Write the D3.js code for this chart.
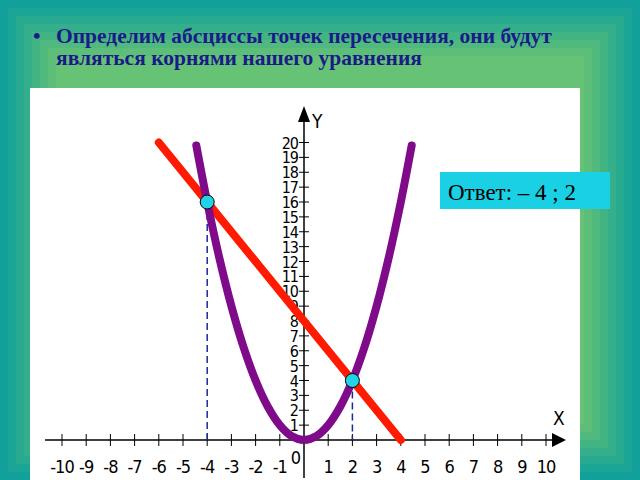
<!DOCTYPE html>
<html><head><meta charset="utf-8">
<script src="https://cdn.jsdelivr.net/npm/d3@7"></script>
<style>body{margin:0;overflow:hidden}</style>
</head><body>
<script>
var xTicks = d3.range(-10, 11);
var yTicks = d3.range(1, 21);
var parabolaX = [-4.45,-4,-3.5,-3,-2.5,-2,-1.5,-1,-0.5,0,0.5,1,1.5,2,2.5,3,3.5,4,4.45];
var lineX = [-6, 4];
var roots = [-4, 2];
var answer = "Ответ: – 4 ; 2";
var titleLines = ["Определим абсциссы точек пересечения, они будут", "являться корнями нашего уравнения"];

var svg = d3.select("body").append("svg").attr("width", 640).attr("height", 480);

// frame
var frames = ["#11a09a","#1aa596","#27aa90","#35af8a","#42b484","#4fb97e","#5cbe78","#66c274"];
frames.forEach(function(c, i){
  svg.append("rect").attr("x", i*8).attr("y", i*8).attr("width", 640-i*16).attr("height", 480-i*16).attr("fill", c);
});
svg.append("rect").attr("x", 30).attr("y", 88).attr("width", 550).attr("height", 392).attr("fill", "#fff");

var t = svg.append("text").attr("font-family", "Liberation Serif").attr("font-weight", "bold")
  .attr("font-size", 21.5).attr("fill", "#1a1a8a");
t.append("tspan").attr("x", 33).attr("y", 43).text("•");
titleLines.forEach(function(s, i){
  t.append("tspan").attr("x", 56).attr("y", 43 + i*22).text(s);
});

var x = d3.scaleLinear().domain([0, 10]).range([304, 546]);
var y = d3.scaleLinear().domain([0, 16]).range([440, 202]);

var g = svg.append("g");
// axes
g.append("line").attr("x1", 45).attr("x2", 552).attr("y1", y(0)).attr("y2", y(0)).attr("stroke", "#000").attr("stroke-width", 1.5);
g.append("path").attr("d", "M566," + y(0) + "l-14,-7v14z");
g.append("line").attr("x1", x(0)).attr("x2", x(0)).attr("y1", 122).attr("y2", 478).attr("stroke", "#000").attr("stroke-width", 1.5);
g.append("path").attr("d", "M" + x(0) + ",106l-6,16h12z");
g.selectAll(".xt").data(xTicks.filter(function(d){return d;})).enter().append("line")
  .attr("x1", x).attr("x2", x).attr("y1", y(0)-6).attr("y2", y(0)+6).attr("stroke", "#000");
g.selectAll(".yt").data(yTicks).enter().append("line")
  .attr("x1", x(0)-5).attr("x2", x(0)+5).attr("y1", y).attr("y2", y).attr("stroke", "#000");
var lf = "DejaVu Sans Condensed";
g.selectAll(".xl").data(xTicks.filter(function(d){return d;})).enter().append("text")
  .attr("x", x).attr("y", y(0)+33).attr("text-anchor", "middle").attr("font-family", lf)
  .attr("font-size", 18).attr("letter-spacing", -1)
  .text(function(d){return d;});
g.append("text").attr("x", x(0)-8).attr("y", y(0)+24).attr("font-family", lf).attr("font-size", 18).attr("text-anchor", "middle").text("0");
g.selectAll(".yl").data(yTicks).enter().append("text")
  .attr("x", x(0)-6).attr("y", function(d){return y(d)+6;}).attr("text-anchor", "end").attr("font-family", lf)
  .attr("font-size", 16).attr("letter-spacing", -1).text(function(d){return d;});
g.append("text").attr("x", x(0)+8).attr("y", 128).attr("font-family", lf).attr("font-size", 19).text("Y");
g.append("text").attr("x", 553).attr("y", 425).attr("font-family", lf).attr("font-size", 19).text("X");

// dashed projections
g.selectAll(".dash").data(roots).enter().append("line")
  .attr("x1", x).attr("x2", x).attr("y1", function(d){return y(d*d);}).attr("y2", y(0))
  .attr("stroke", "#1a2a9a").attr("stroke-width", 1.5).attr("stroke-dasharray", "7,4");

var ln = d3.line().x(function(d){return x(d);});
g.append("path").datum(lineX).attr("d", ln.y(function(d){return y(-2*d+8);}))
  .attr("fill", "none").attr("stroke", "#ff1a00").attr("stroke-width", 8).attr("stroke-linecap", "round");
var pl = d3.line().curve(d3.curveCatmullRom).x(function(d){return x(d);}).y(function(d){return y(d*d);});
g.append("path").datum(parabolaX).attr("d", pl)
  .attr("fill", "none").attr("stroke", "#7f0a8a").attr("stroke-width", 8).attr("stroke-linecap", "round");

g.selectAll(".pt").data(roots).enter().append("circle")
  .attr("cx", x).attr("cy", function(d){return y(d*d);}).attr("r", 7)
  .attr("fill", "#22d3e6").attr("stroke", "#000").attr("stroke-width", 1);

svg.append("rect").attr("x", 440).attr("y", 172).attr("width", 170).attr("height", 37).attr("fill", "#19d0e4");
svg.append("text").attr("x", 448).attr("y", 200).attr("font-family", "Liberation Serif").attr("font-size", 23).text(answer);
</script>
</body></html>
